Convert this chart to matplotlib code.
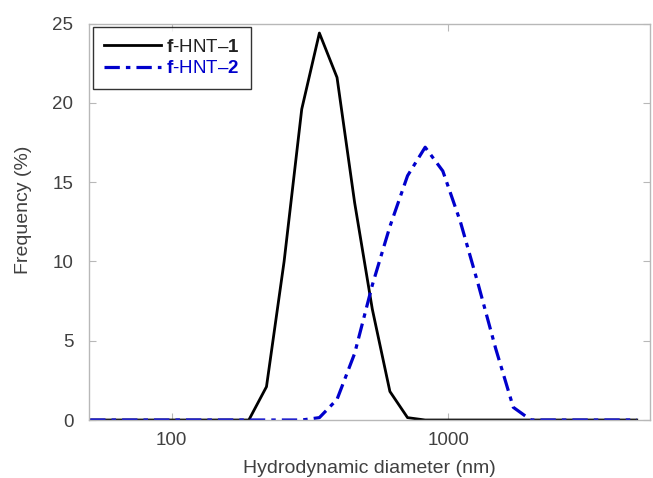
import numpy as np
import matplotlib.pyplot as plt

plt.rcParams['font.family'] = ['Liberation Sans', 'DejaVu Sans']
plt.rcParams['mathtext.fontset'] = 'custom'
plt.rcParams['mathtext.rm'] = 'Liberation Sans'
plt.rcParams['mathtext.bf'] = 'Liberation Sans:bold'

# DLS size bins (nm) and frequency (%)
size_nm = [50.75, 58.77, 68.06, 78.82, 91.28, 105.7, 122.4, 141.8, 164.2,
           190.1, 220.2, 255.0, 295.3, 342.0, 396.1, 458.7, 531.2, 615.1,
           712.4, 825.0, 955.4, 1106, 1281, 1484, 1718, 1990, 2305, 2669,
           3091, 3580, 4145, 4801]
hnt1 = [0, 0, 0, 0, 0, 0, 0, 0, 0,
        0, 2.1, 10.0, 19.6, 24.4, 21.6, 13.7, 7.0, 1.8,
        0.15, 0, 0, 0, 0, 0, 0, 0, 0, 0,
        0, 0, 0, 0]
hnt2 = [0, 0, 0, 0, 0, 0, 0, 0, 0,
        0, 0, 0, 0, 0.15, 1.3, 4.2, 8.5, 12.2,
        15.4, 17.2, 15.7, 12.5, 8.6, 4.5, 0.8, 0, 0, 0,
        0, 0, 0, 0]

txt = '#404040'
fig = plt.figure(figsize=(6.53, 4.78), dpi=100)
ax = fig.add_axes([0.1368, 0.1213, 0.8586, 0.8295])

ax.plot(size_nm, hnt1, color='black', lw=2.0, label=r'$\mathbf{f}$-HNT' + '\u2013' + r'$\mathbf{1}$')
ax.plot(size_nm, hnt2, color='#0000cc', lw=2.3, linestyle=(0, (4.8, 1.9, 1.4, 1.9)),
        label=r'$\mathbf{f}$-HNT' + '\u2013' + r'$\mathbf{2}$')

ax.set_xscale('log')
ax.set_xlim(50.4, 5360)
ax.set_ylim(0, 25)
ax.set_xticks([100, 1000])
ax.set_xticklabels(['100', '1000'])
ax.xaxis.set_minor_locator(plt.NullLocator())
ax.set_yticks([0, 5, 10, 15, 20, 25])

for s in ax.spines.values():
    s.set_color('#b8b8b8')
    s.set_linewidth(1.0)
ax.tick_params(direction='in', top=True, right=True, length=5, color='#b8b8b8',
               labelsize=13.5, labelcolor=txt)
ax.tick_params(axis='x', pad=8.5)
ax.tick_params(axis='y', pad=11.5)

ax.set_xlabel('Hydrodynamic diameter (nm)', fontsize=14, color=txt, labelpad=8)
ax.set_ylabel('Frequency (%)', fontsize=14, color=txt, labelpad=15)
ax.yaxis.label.set_y(0.53)

leg = ax.legend(loc='upper left', fontsize=13.5, frameon=True, fancybox=False,
                edgecolor='black', borderaxespad=0.2, handlelength=3.0,
                handletextpad=0.3, labelspacing=0.25, borderpad=0.6)
leg.get_frame().set_linewidth(1.0)
leg.get_texts()[0].set_color('#222222')
leg.get_texts()[1].set_color('#0000cc')

fig.savefig('out.png', dpi=100)
